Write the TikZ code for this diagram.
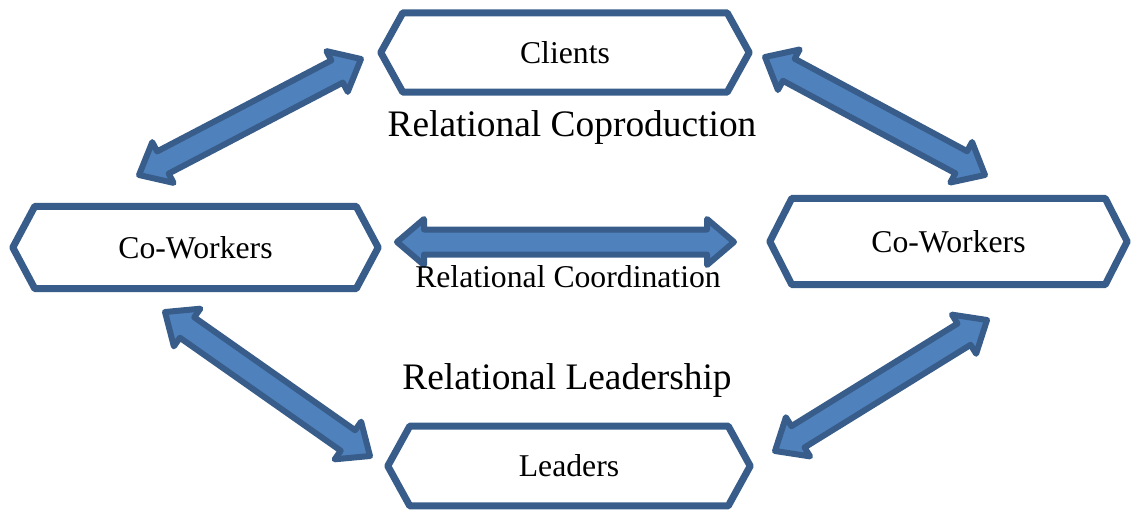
\documentclass[tikz,border=0pt]{standalone}
\usepackage{fontspec}
\setmainfont{Liberation Serif}
\usetikzlibrary{calc}
\definecolor{rimblue}{HTML}{385D8A}
\definecolor{fillblue}{HTML}{4F81BD}
\tikzset{
  hexbox/.style={minimum height=#1, inner sep=0pt, font=\fontsize{31.7}{36}\selectfont},
  hexline/.style={draw=rimblue, line width=7pt, line join=round},
  linkarrow/.style={draw=rimblue, fill=fillblue, line width=6pt, line join=round},
  bigtag/.style={anchor=base, inner sep=0pt, font=\fontsize{37.4}{42}\selectfont},
  smalltag/.style={anchor=base, inner sep=0pt, font=\fontsize{31.7}{36}\selectfont}
}
% hexagon round a node
\newcommand\hexframe[1]{%
  \draw[hexline] (#1.west) -- ([xshift=\tipin]#1.north west) -- ([xshift=-\tipin]#1.north east)
    -- (#1.east) -- ([xshift=-\tipin]#1.south east) -- ([xshift=\tipin]#1.south west) -- cycle;}
% broad two-headed arrow between two tips
\newcommand\twoway[2]{%
  \coordinate (h1) at ($(#1)!\arrhead!(#2)$);
  \coordinate (h2) at ($(#2)!\arrhead!(#1)$);
  \draw[linkarrow] (#1) -- ($(h1)!\arrwide!90:(#2)$) -- ($(h1)!\arrshaft!90:(#2)$)
    -- ($(h2)!\arrshaft!-90:(#1)$) -- ($(h2)!\arrwide!-90:(#1)$) -- (#2)
    -- ($(h2)!\arrwide!90:(#1)$) -- ($(h2)!\arrshaft!90:(#1)$)
    -- ($(h1)!\arrshaft!-90:(#2)$) -- ($(h1)!\arrwide!-90:(#2)$) -- cycle;}
\begin{document}
\begin{tikzpicture}[x=1pt, y=-1pt, line join=round]
    \def\tipin{22pt} % how far the pointed ends reach in
    \def\arrhead{27pt} \def\arrwide{23pt} \def\arrshaft{12.5pt}
    \useasboundingbox (0,0) rectangle (1131,509);

    % the four parties
    \node[hexbox=79, minimum width=368] (clients) at (565,52.5) {Clients};
    \node[hexbox=82, minimum width=365] (cwleft) at (195.5,247.5) {Co-Workers};
    \node[hexbox=86, minimum width=357] (cwright) at (948.5,241.5) {Co-Workers};
    \node[hexbox=79.5, minimum width=362] (leaders) at (569,466) {Leaders};
    \foreach \n in {clients,cwleft,cwright,leaders} {\hexframe{\n}}

    % arrow tips
    \coordinate (a1) at (139,175); \coordinate (a2) at (361,59);
    \coordinate (b1) at (765,57);  \coordinate (b2) at (985,175);
    \coordinate (c1) at (397,242); \coordinate (c2) at (734,242);
    \coordinate (d1) at (165,312); \coordinate (d2) at (370,456);
    \coordinate (e1) at (987,320); \coordinate (e2) at (775,451);
    \twoway{a1}{a2} \twoway{b1}{b2} \twoway{c1}{c2}
    \twoway{d1}{d2} \twoway{e1}{e2}

    \node[bigtag] (coprod) at (572,136) {Relational Coproduction};
    \node[smalltag] (coord) at (568,287) {Relational Coordination};
    \node[bigtag] (lead) at (567,389) {Relational Leadership};
\end{tikzpicture}
\end{document}
